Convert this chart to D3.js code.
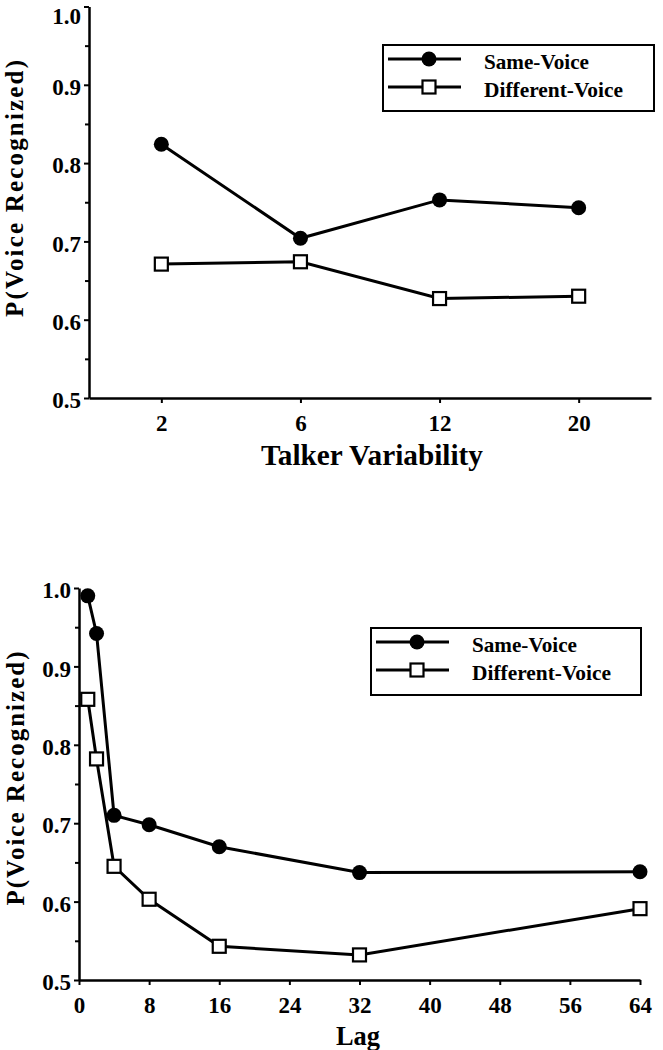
<!DOCTYPE html>
<html>
<head>
<meta charset="utf-8">
<script src="https://cdn.jsdelivr.net/npm/d3@7"></script>
<style>
  html, body { margin: 0; padding: 0; background: #fff; }
  svg { display: block; }
  text { font-family: "Liberation Serif", "Times New Roman", serif; font-weight: bold; fill: #000; }
</style>
</head>
<body>
<svg id="chart" width="663" height="1050"></svg>
<script>
// ---- Data ----
const seriesNames = ["Same-Voice", "Different-Voice"];
const talkerCats = ["2", "6", "12", "20"];
const talkerSame = [0.824, 0.704, 0.753, 0.743];
const talkerDiff = [0.671, 0.674, 0.627, 0.630];
const lags = [1, 2, 4, 8, 16, 32, 64];
const lagSame = [0.990, 0.942, 0.710, 0.698, 0.670, 0.637, 0.638];
const lagDiff = [0.858, 0.782, 0.645, 0.603, 0.543, 0.532, 0.591];
const yTicks = [0.5, 0.6, 0.7, 0.8, 0.9, 1.0];
const yMinorTicks = [0.55, 0.65, 0.75, 0.85, 0.95];
const lagTicks = [0, 8, 16, 24, 32, 40, 48, 56, 64];
const yTitle = "P(Voice Recognized)";
const xTitleTop = "Talker Variability";
const xTitleBottom = "Lag";

const svg = d3.select("#chart");

function styleAxis(g) {
  g.select(".domain").attr("stroke", "#000").attr("stroke-width", 2.5);
  g.selectAll(".tick line").attr("stroke", "#000").attr("stroke-width", 2);
  g.selectAll("text").attr("font-family", "'Liberation Serif', 'Times New Roman', serif")
    .attr("font-weight", "bold").attr("fill", "#000");
}

function drawPanel(cfg) {
  const g = svg.append("g");
  const x = cfg.x, y = cfg.y;
  // y axis minor ticks
  g.append("g").attr("transform", `translate(${cfg.left},0)`)
    .call(d3.axisLeft(y).tickValues(yMinorTicks).tickSize(4).tickFormat(""))
    .call(g2 => { g2.select(".domain").remove(); g2.selectAll(".tick line").attr("stroke", "#000").attr("stroke-width", 2); });
  // y axis
  const ya = g.append("g").attr("transform", `translate(${cfg.left},0)`)
    .call(d3.axisLeft(y).tickValues(yTicks).tickSize(5).tickSizeOuter(0).tickPadding(3).tickFormat(d3.format(".1f")));
  styleAxis(ya);
  ya.selectAll("text").attr("font-size", 23)
    .attr("dy", d => (y(d) < 15 ? "0.75em" : "0.42em"));
  // x axis
  const xa = g.append("g").attr("transform", `translate(0,${cfg.bottom})`)
    .call(cfg.xAxis);
  styleAxis(xa);
  xa.selectAll("text").attr("font-size", 23).attr("y", 17).attr("dy", "0.71em");

  // y title
  g.append("text")
    .attr("transform", `translate(${cfg.yTitleX},${cfg.yTitleY}) rotate(-90)`)
    .attr("text-anchor", "middle")
    .attr("font-size", 25)
    .attr("textLength", cfg.yTitleLen)
    .attr("lengthAdjust", "spacing")
    .text(yTitle);
  // x title
  g.append("text")
    .attr("x", cfg.xTitleX).attr("y", cfg.xTitleY)
    .attr("text-anchor", "middle")
    .attr("font-size", cfg.xTitleSize)
    .attr("textLength", cfg.xTitleLen)
    .attr("lengthAdjust", "spacingAndGlyphs")
    .text(cfg.xTitle);

  const line = d3.line().x(d => d[0]).y(d => d[1]);
  const sameData = cfg.xs.map((v, i) => [x(v), y(cfg.same[i])]);
  const diffData = cfg.xs.map((v, i) => [x(v), y(cfg.diff[i])]);

  g.append("path").attr("d", line(sameData)).attr("fill", "none").attr("stroke", "#000").attr("stroke-width", 3);
  g.append("path").attr("d", line(diffData)).attr("fill", "none").attr("stroke", "#000").attr("stroke-width", 3);
  g.selectAll(".same").data(sameData).join("circle")
    .attr("cx", d => d[0]).attr("cy", d => d[1]).attr("r", 7.5).attr("fill", "#000");
  g.selectAll(".diff").data(diffData).join("rect")
    .attr("x", d => d[0] - 6.5).attr("y", d => d[1] - 6.5).attr("width", 13).attr("height", 13)
    .attr("fill", "#fff").attr("stroke", "#000").attr("stroke-width", 2.2);

  // legend
  const L = cfg.legend;
  const lg = g.append("g").attr("transform", `translate(${L.x},${L.y})`);
  lg.append("rect").attr("width", L.w).attr("height", L.h).attr("fill", "#fff")
    .attr("stroke", "#000").attr("stroke-width", 2);
  const legendLens = [105, 139];
  seriesNames.forEach((name, i) => {
    const ly = 14 + i * 28;
    lg.append("line").attr("x1", 5).attr("x2", 78).attr("y1", ly).attr("y2", ly)
      .attr("stroke", "#000").attr("stroke-width", 3);
    if (i === 0) {
      lg.append("circle").attr("cx", 46).attr("cy", ly).attr("r", 7.5).attr("fill", "#000");
    } else {
      lg.append("rect").attr("x", 46 - 6.5).attr("y", ly - 6.5).attr("width", 13).attr("height", 13)
        .attr("fill", "#fff").attr("stroke", "#000").attr("stroke-width", 2.2);
    }
    lg.append("text").attr("x", 101).attr("y", ly + 10).attr("font-size", 22)
      .attr("textLength", legendLens[i]).attr("lengthAdjust", "spacingAndGlyphs").text(name);
  });
}

// ---- Top panel: Talker variability ----
const xTop = d3.scalePoint().domain(talkerCats).range([89, 651]).padding(0.52);
const yTop = d3.scaleLinear().domain([0.5, 1.0]).range([398, 6.5]);
drawPanel({
  x: xTop, y: yTop, left: 89, bottom: 398,
  xAxis: d3.axisBottom(xTop).tickSize(5).tickSizeOuter(0),
  xs: talkerCats, same: talkerSame, diff: talkerDiff,
  yTitleX: 23, yTitleY: 188.5, yTitleLen: 257,
  xTitle: xTitleTop, xTitleX: 372, xTitleY: 465, xTitleSize: 30, xTitleLen: 222,
  legend: { x: 383, y: 45, w: 271, h: 66 }
});

// ---- Bottom panel: Lag ----
const xBot = d3.scaleLinear().domain([0, 64]).range([79, 640]);
const yBot = d3.scaleLinear().domain([0.5, 1.0]).range([980, 588]);
drawPanel({
  x: xBot, y: yBot, left: 79, bottom: 980,
  xAxis: d3.axisBottom(xBot).tickValues(lagTicks).tickSize(5).tickSizeOuter(0).tickFormat(d3.format("d")),
  xs: lags, same: lagSame, diff: lagDiff,
  yTitleX: 24, yTitleY: 778.5, yTitleLen: 254,
  xTitle: xTitleBottom, xTitleX: 358, xTitleY: 1045, xTitleSize: 28, xTitleLen: 44,
  legend: { x: 371, y: 628, w: 270, h: 67 }
});
</script>
</body>
</html>
